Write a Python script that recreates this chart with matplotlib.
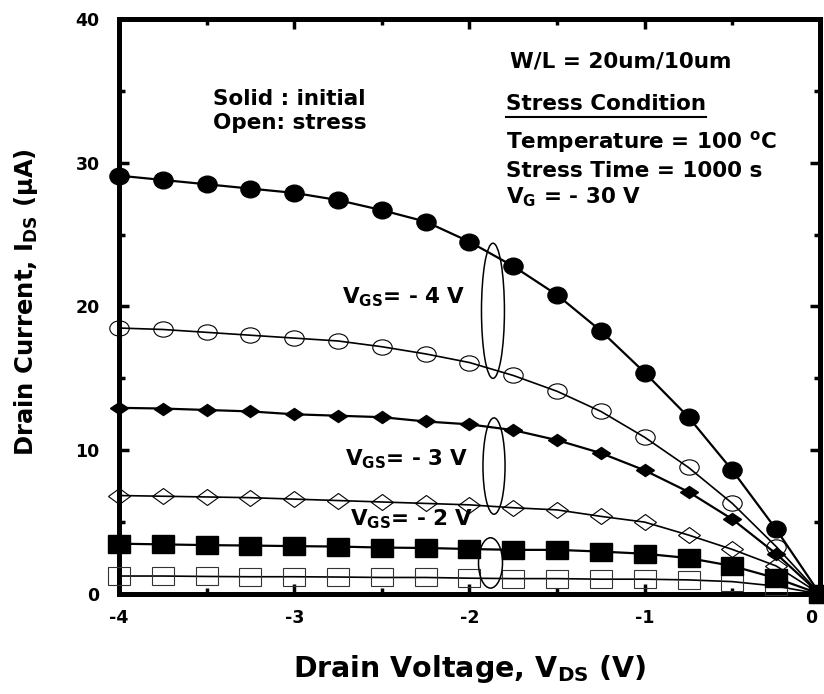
import matplotlib
matplotlib.use('Agg')
import matplotlib.pyplot as plt
from matplotlib.markers import MarkerStyle
from matplotlib.patches import Ellipse
from matplotlib.transforms import Affine2D, ScaledTranslation
from matplotlib.lines import Line2D

# drain voltage sweep (V)
vds = [-4.0, -3.75, -3.5, -3.25, -3.0, -2.75, -2.5, -2.25, -2.0,
       -1.75, -1.5, -1.25, -1.0, -0.75, -0.5, -0.25, 0.0]

# drain current (uA), solid = initial, open = after stress
id_vgs4_init = [29.1, 28.8, 28.5, 28.2, 27.9, 27.4, 26.7, 25.9, 24.5,
                22.8, 20.8, 18.3, 15.4, 12.3, 8.6, 4.5, 0.0]
id_vgs4_str = [18.5, 18.4, 18.2, 18.0, 17.8, 17.6, 17.2, 16.7, 16.1,
               15.2, 14.1, 12.7, 10.9, 8.8, 6.3, 3.3, 0.0]
id_vgs3_init = [12.95, 12.9, 12.8, 12.7, 12.5, 12.4, 12.3, 12.0, 11.8,
                11.4, 10.7, 9.8, 8.6, 7.1, 5.2, 2.8, 0.0]
id_vgs3_str = [6.85, 6.8, 6.75, 6.7, 6.6, 6.5, 6.4, 6.3, 6.2,
               6.0, 5.85, 5.4, 5.0, 4.1, 3.1, 1.95, 0.0]
id_vgs2_init = [3.5, 3.45, 3.4, 3.37, 3.33, 3.3, 3.23, 3.2, 3.13,
                3.07, 3.07, 2.95, 2.8, 2.5, 1.95, 1.1, 0.0]
id_vgs2_str = [1.25, 1.25, 1.22, 1.2, 1.2, 1.18, 1.15, 1.15, 1.1,
               1.07, 1.07, 1.03, 1.03, 0.98, 0.86, 0.55, 0.0]

x_ticks = [-4, -3, -2, -1, 0]
x_minor = [-3.5, -2.5, -1.5, -0.5]
y_ticks = [0, 10, 20, 30, 40]
y_minor = [5, 15, 25, 35]

vgs_labels = [r'$\mathbf{V_{GS}}$= - 4 V', r'$\mathbf{V_{GS}}$= - 3 V', r'$\mathbf{V_{GS}}$= - 2 V']

plt.rcParams['font.family'] = 'DejaVu Sans'
plt.rcParams['font.weight'] = 'bold'
plt.rcParams['axes.labelweight'] = 'bold'
plt.rcParams['axes.unicode_minus'] = False
plt.rcParams['mathtext.fontset'] = 'dejavusans'

fig = plt.figure(figsize=(8.24, 6.94), dpi=100)
ax = fig.add_axes([0.1444, 0.1441, 0.8507, 0.8286])


def mk(shape, sx):
    return MarkerStyle(shape, transform=Affine2D().scale(sx, 1.0))


# open (stress) curves
ax.plot(vds, id_vgs4_str, color='k', lw=1.2, marker=mk('o', 1.27), ms=11,
        mfc='none', mec='k', mew=0.8, clip_on=False, zorder=3)
ax.plot(vds, id_vgs3_str, color='k', lw=1.2, marker=mk('D', 1.3), ms=8.5,
        mfc='none', mec='k', mew=0.8, clip_on=False, zorder=3)
ax.plot(vds, id_vgs2_str, color='k', lw=1.2, marker=mk('s', 1.25), ms=12.5,
        mfc='none', mec='#333333', mew=0.8, clip_on=False, zorder=3)

# solid (initial) curves
ax.plot(vds, id_vgs4_init, color='k', lw=1.6, marker=mk('o', 1.15), ms=12,
        mfc='k', mec='k', clip_on=False, zorder=4)
ax.plot(vds, id_vgs3_init, color='k', lw=1.6, marker=mk('D', 1.38), ms=6.6,
        mfc='k', mec='k', clip_on=False, zorder=4)
ax.plot(vds, id_vgs2_init, color='k', lw=1.6, marker=mk('s', 1.18), ms=13,
        mfc='k', mec='k', clip_on=False, zorder=4)

# ellipses grouping each V_GS pair
ax.add_patch(Ellipse((-1.866, 19.7), 0.131, 9.4, fill=False, ec='k', lw=1.1, zorder=5))
ax.add_patch(Ellipse((-1.86, 8.9), 0.126, 6.7, fill=False, ec='k', lw=1.1, zorder=5))
ax.add_patch(Ellipse((-1.88, 2.16), 0.137, 3.5, fill=False, ec='k', lw=1.1, zorder=5))

ax.text(-2.727, 20.2, vgs_labels[0], fontsize=15.5, va='baseline')
ax.text(-2.71, 8.92, vgs_labels[1], fontsize=15.5, va='baseline')
ax.text(-2.682, 4.74, vgs_labels[2], fontsize=15.5, va='baseline')

ax.text(-3.464, 34.0, 'Solid : initial', fontsize=15.5, va='baseline')
ax.text(-3.464, 32.35, 'Open: stress', fontsize=15.5, va='baseline')

ax.text(-1.769, 36.6, 'W/L = 20um/10um', fontsize=15.5, va='baseline')
cond = ax.text(-1.792, 33.66, 'Stress Condition', fontsize=15.5, va='baseline')
ax.text(-1.792, 31.0, r'Temperature = 100 $\mathbf{^{o}}$C', fontsize=15.5, va='baseline')
ax.text(-1.792, 29.0, 'Stress Time = 1000 s', fontsize=15.5, va='baseline')
ax.text(-1.792, 27.18, r'$\mathbf{V_{G}}$ = - 30 V', fontsize=15.5, va='baseline')

ax.set_xlim(-4, 0)
ax.set_ylim(0, 40)
ax.set_xticks(x_ticks)
ax.set_xticks(x_minor, minor=True)
ax.set_yticks(y_ticks)
ax.set_yticks(y_minor, minor=True)
ax.tick_params(which='both', direction='in', top=True, right=True, width=2.5)
ax.tick_params(which='major', length=7)
ax.tick_params(which='minor', length=4)
ax.tick_params(axis='x', which='major', pad=11, labelsize=12.5)
ax.tick_params(axis='y', which='major', pad=14, labelsize=12.5)
for sp in ax.spines.values():
    sp.set_linewidth(3.6)

ax.set_xlabel(r'Drain Voltage, $\mathbf{V_{DS}}$ (V)', fontsize=20.5, va='baseline')
ax.xaxis.set_label_coords(0.5, -0.1446)
ax.set_ylabel(r'Drain Current, $\mathbf{I_{DS}}$ ($\mathbf{\mu}$A)', fontsize=17.5)
ax.yaxis.label.set_va('center')
ax.yaxis.label.set_ha('center')
ax.yaxis.label.set_rotation_mode('default')
ax.yaxis.set_label_coords(-0.1327, 0.507)

# keep the "0" at the right edge inside the picture
lab0 = ax.xaxis.get_major_ticks()[-1].label1
lab0.set_transform(lab0.get_transform() + ScaledTranslation(-6 / 72, 0, fig.dpi_scale_trans))

# underline for "Stress Condition"
fig.canvas.draw()
bb = cond.get_window_extent(fig.canvas.get_renderer())
inv = fig.transFigure.inverted()
x0, y0 = inv.transform((bb.x0, bb.y0 - 3))
x1, _ = inv.transform((bb.x1, bb.y0 - 3))
fig.add_artist(Line2D([x0, x1], [y0, y0], color='k', lw=1.5))

fig.savefig('out.png', dpi=100)
